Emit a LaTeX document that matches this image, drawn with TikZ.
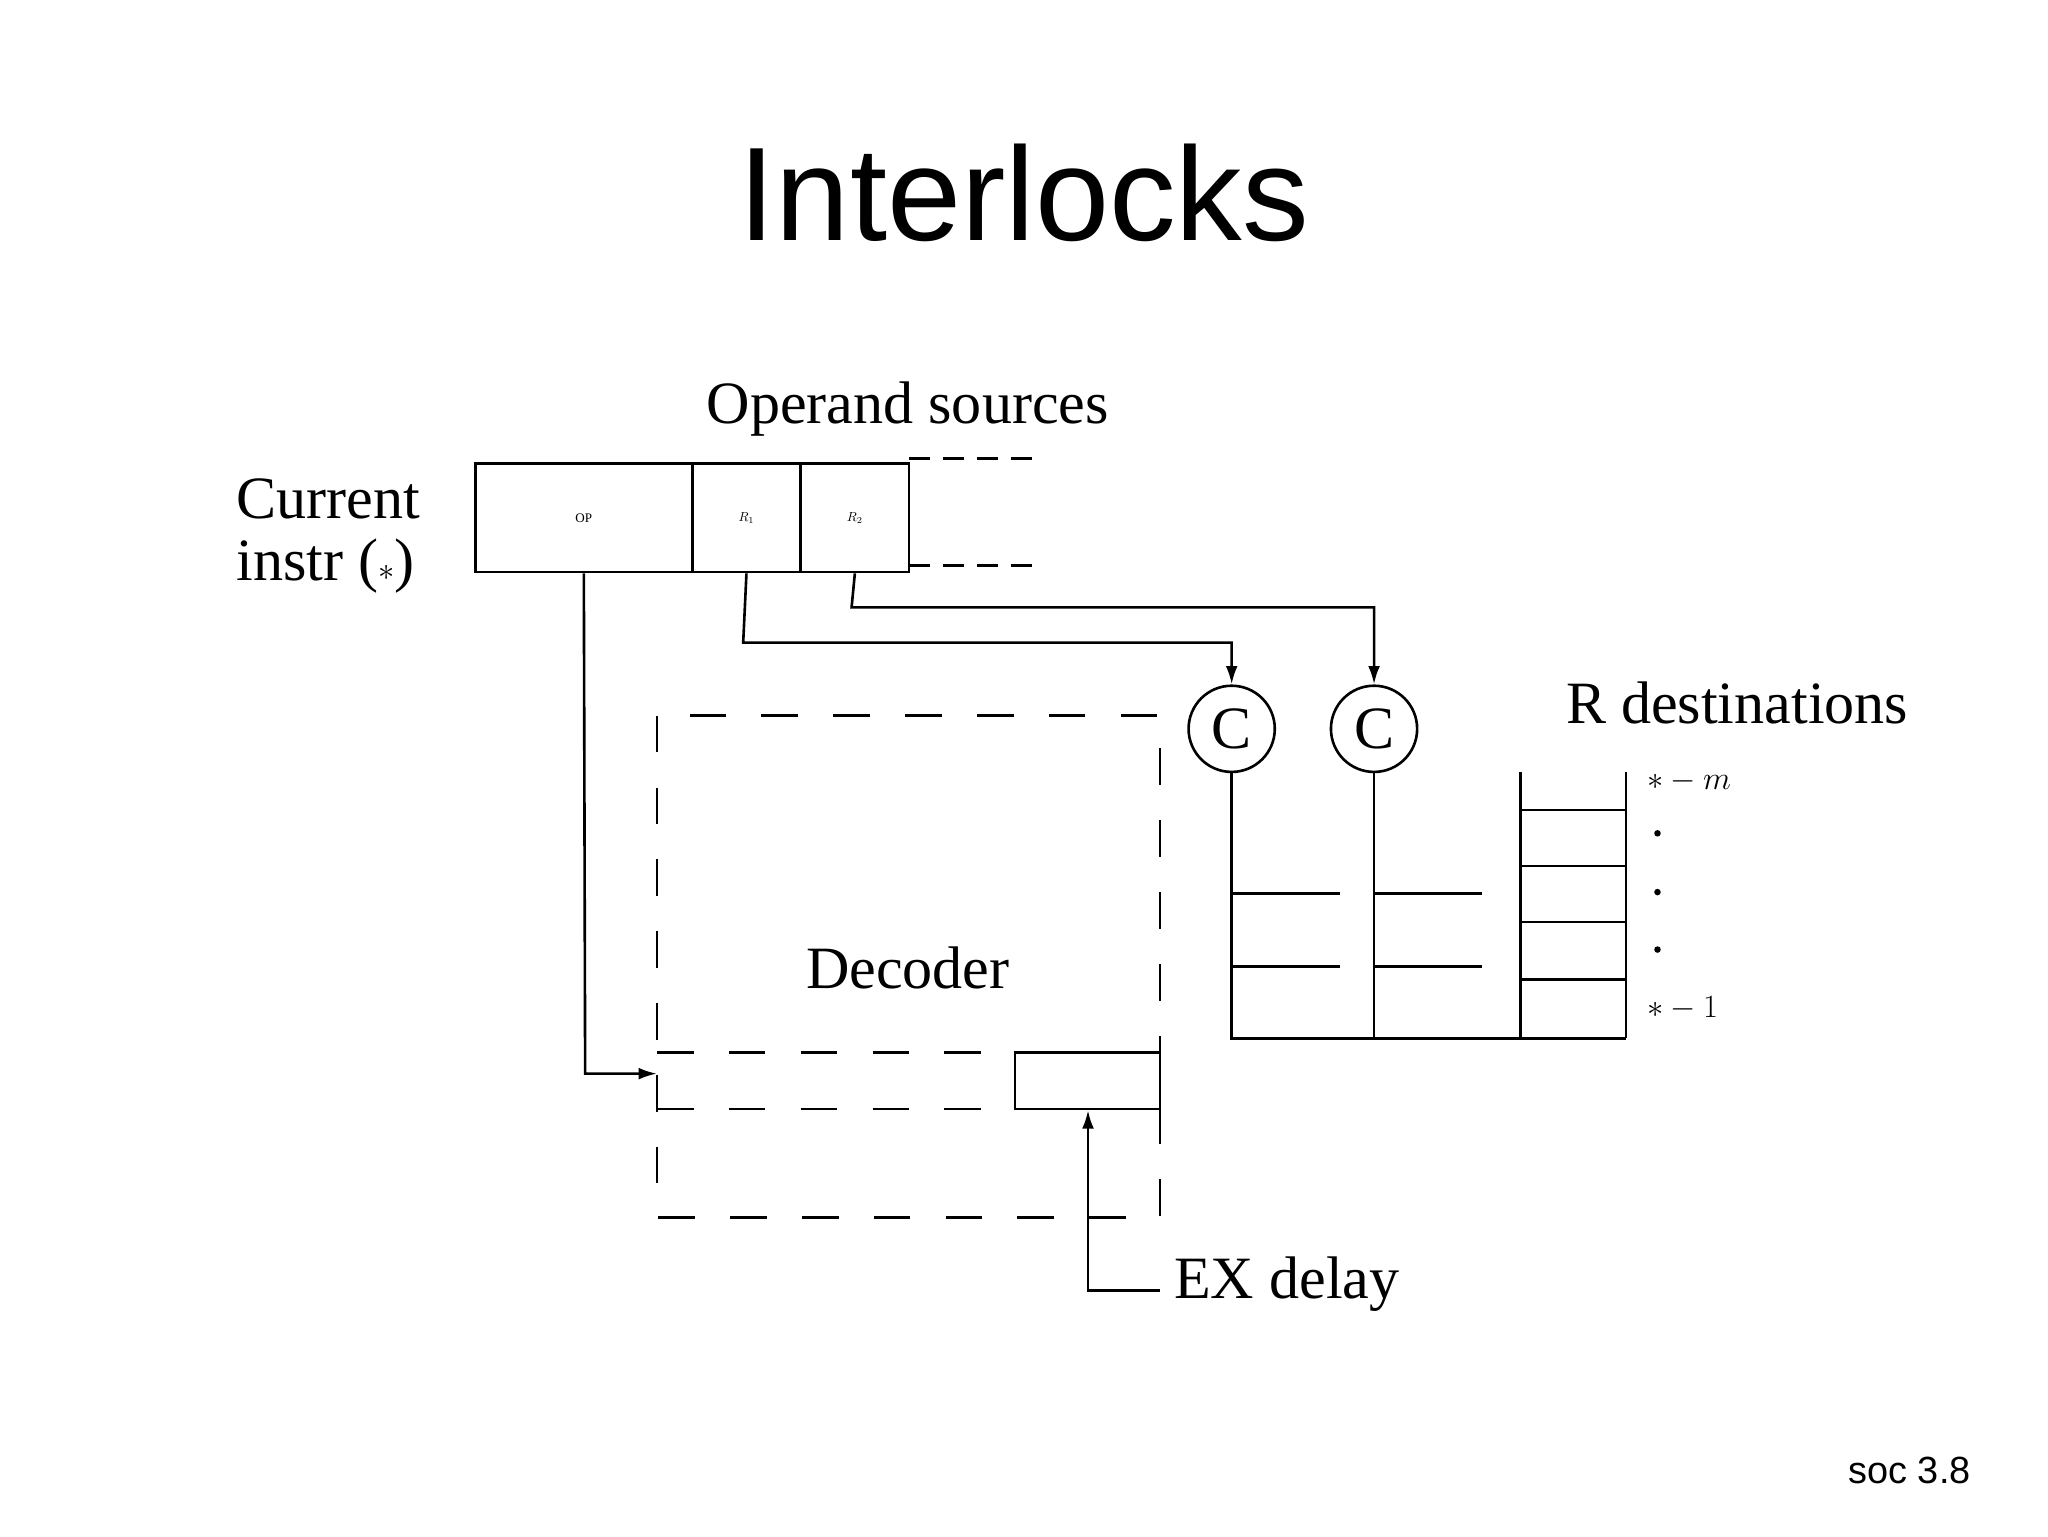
\documentclass[tikz,border=0pt]{standalone}
\usepackage{fontspec}
\setmainfont{Liberation Serif}
\newfontfamily\sansf{Liberation Sans}
\usetikzlibrary{arrows.meta}
\begin{document}
\begin{tikzpicture}[x=1pt,y=-1pt,line width=2pt,
  arr/.style={-{Latex[length=14,width=9]}},
  dsh/.style={dash pattern=on 28 off 27},
  lbl/.style={inner sep=0,font=\fontsize{46}{48}\selectfont},
  box/.style={draw,inner sep=0,minimum height=83}]
\useasboundingbox (0,0) rectangle (1568,1176);
\node[inner sep=0,font=\sansf\fontsize{102}{110}\selectfont] (title) at (784,148) {Interlocks};
\node[inner sep=0,font=\sansf\fontsize{29}{32}\selectfont] (soc) at (1462,1126) {soc 3.8};
\node[lbl] (os) at (695,313) {Operand sources};
\node[lbl,anchor=west] (cur) at (180,382) {Current};
\node[lbl,anchor=west] (ins) at (180,433) {instr ($*$)};
\node[box,minimum width=166] (op) at (447,396.5) {OP};
\node[box,minimum width=83] (r1) at (571.5,396.5) {$R_1$};
\node[box,minimum width=83] (r2) at (654.5,396.5) {$R_2$};
\coordinate (d1) at (795,351); \coordinate (d2) at (795,433);
\draw[dash pattern=on 16 off 10] (696,351) -- (d1);
\draw[dash pattern=on 16 off 10] (696,433) -- (d2);
\node[draw,circle,minimum size=66,inner sep=0,lbl] (c1) at (943,558) {C};
\node[draw,circle,minimum size=66,inner sep=0,lbl] (c2) at (1052,558) {C};
\draw[arr] (r1.south) -- (569,492) -| (c1.north);
\draw[arr] (r2.south) -- (652,465) -| (c2.north);
% decoder
\draw[dsh] (503,548) rectangle (888,932);
\node[lbl] (dec) at (695,741) {Decoder};
\draw[dsh] (503,806) -- (888,806);
\draw[dsh] (503,849) -- (888,849);
\node[draw,inner sep=0,minimum width=111,minimum height=43] (exb) at (832.5,827.5) {};
\coordinate (opin) at (503,822);
\draw[arr] (op.south) -- (448,822) -- (opin);
\coordinate (exc) at (833,988);
\coordinate (exr) at (888,988);
\draw[arr] (exr) -- (exc) -- (exc|-exb.south);
\node[lbl,anchor=west] (ex) at (898,983) {EX delay};
% destinations
\draw (c1.south) -- (943,795) -- (1245,795);
\draw (c2.south) -- (1052,795);
\draw (943,684) -- (1026,684) (943,740) -- (1026,740);
\draw (1052,684) -- (1135,684) (1052,740) -- (1135,740);
\draw (1164,591) -- (1164,795) (1245,591) -- (1245,795);
\foreach \y in {620,663,706,750} \draw (1164,\y) -- (1245,\y);
\node[lbl] (rd) at (1330,538) {R destinations};
\node[lbl,anchor=west] (sm) at (1260,598) {$*-m$};
\node[lbl,anchor=west] (s1) at (1260,772) {$*-1$};
\foreach \y in {638,683,727} \fill (1269,\y) circle (2.5);
\end{tikzpicture}
\end{document}
